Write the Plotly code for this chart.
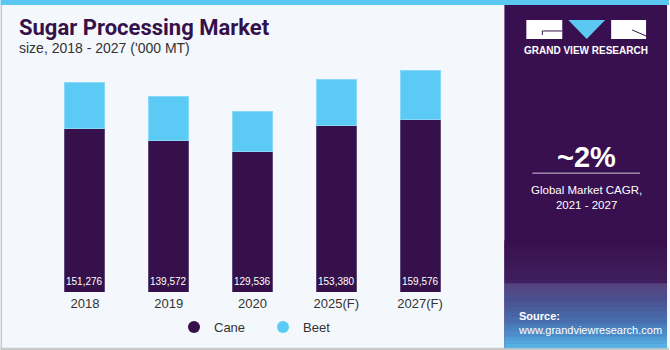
import plotly.graph_objects as go

# ---- data ----
years = ["2018", "2019", "2020", "2025(F)", "2027(F)"]
cane = [151276, 139572, 129536, 153380, 159576]
beet = [42500, 40600, 37500, 43100, 45300]
series_names = ["Cane", "Beet"]
cane_labels = ["151,276", "139,572", "129,536", "153,380", "159,576"]

CANE_C = "#36104a"
BEET_C = "#5bcaf5"
PANEL_C = "#39104f"
BG = "#f4f8fc"

W, H = 670, 350
L, R, T, B = 42.5, 207.5, 60, 58.3
PW, PH = W - L - R, H - T - B


def px(x):
    return (x - L) / PW


def py(y):
    return (H - B - y) / PH


fig = go.Figure()
fig.add_trace(go.Bar(x=years, y=cane, name=series_names[0], marker=dict(color=CANE_C, line=dict(color="#5e4a78", width=1)), showlegend=False))
fig.add_trace(go.Bar(x=years, y=beet, name=series_names[1], marker=dict(color=BEET_C, line=dict(color="#8ad8f7", width=1)), showlegend=False))
# legend entries with round markers
fig.add_trace(go.Scatter(x=[None], y=[None], mode="markers", name=series_names[0], marker=dict(color=CANE_C, size=12, symbol="circle")))
fig.add_trace(go.Scatter(x=[None], y=[None], mode="markers", name=series_names[1], marker=dict(color=BEET_C, size=12, symbol="circle")))

shapes = []
annotations = []

# value labels at bar base
for i, lab in enumerate(cane_labels):
    annotations.append(dict(x=i, y=0, xref="x", yref="y", text=lab, showarrow=False,
                            yanchor="bottom", yshift=3, font=dict(size=10, color="white", family="Liberation Sans")))

# frame elements
shapes.append(dict(type="rect", xref="paper", yref="paper", x0=px(0), x1=px(670), y0=py(0), y1=py(5), fillcolor="#5bc8f2", line_width=0, layer="below"))
shapes.append(dict(type="rect", xref="paper", yref="paper", x0=px(0), x1=px(1.5), y0=py(5), y1=py(350), fillcolor="#c9c9c9", line_width=0, layer="below"))
shapes.append(dict(type="rect", xref="paper", yref="paper", x0=px(0), x1=px(670), y0=py(347.5), y1=py(350), fillcolor="#c9c9c9", line_width=0, layer="below"))
# right panel
shapes.append(dict(type="rect", xref="paper", yref="paper", x0=px(505), x1=px(668), y0=py(5), y1=py(347.5), fillcolor=PANEL_C, line_width=0, layer="below"))


def lerp(c1, c2, t):
    a = [int(c1[i:i + 2], 16) for i in (1, 3, 5)]
    b = [int(c2[i:i + 2], 16) for i in (1, 3, 5)]
    return "rgb(%d,%d,%d)" % tuple(round(a[k] + (b[k] - a[k]) * t) for k in range(3))


# subtle darker-to-lighter purple band
n1 = 12
for i in range(n1):
    y0 = 240 + i * (283 - 240) / n1
    y1 = 240 + (i + 1) * (283 - 240) / n1
    shapes.append(dict(type="rect", xref="paper", yref="paper", x0=px(505), x1=px(668), y0=py(y0), y1=py(y1 + 0.5),
                       fillcolor=lerp(PANEL_C, "#40205f", i / n1), line_width=0, layer="below"))
# lower gradient area
stops = [(283, "#54437f"), (300, "#4a5392"), (320, "#4870b0"), (335, "#4d93cf"), (347.5, "#5cbdec")]
for (ya, ca), (yb, cb) in zip(stops[:-1], stops[1:]):
    n = 8
    for i in range(n):
        y0 = ya + i * (yb - ya) / n
        y1 = ya + (i + 1) * (yb - ya) / n
        shapes.append(dict(type="rect", xref="paper", yref="paper", x0=px(505), x1=px(668), y0=py(y0), y1=py(y1 + 0.5),
                           fillcolor=lerp(ca, cb, i / n), line_width=0, layer="below"))

# logo
shapes.append(dict(type="rect", xref="paper", yref="paper", x0=px(527), x1=px(563), y0=py(20), y1=py(39), fillcolor="white", line_width=0, layer="below"))
shapes.append(dict(type="path", xref="paper", yref="paper",
                   path="M %f %f L %f %f L %f %f Z" % (px(569), py(20), px(606), py(20), px(587.5), py(39)),
                   fillcolor="#5bc8f2", line_width=0, layer="below"))
shapes.append(dict(type="rect", xref="paper", yref="paper", x0=px(612), x1=px(647), y0=py(20), y1=py(39), fillcolor="white", line_width=0, layer="below"))
shapes.append(dict(type="line", xref="paper", yref="paper", x0=px(543), x1=px(563), y0=py(31), y1=py(31), line=dict(color=PANEL_C, width=1), layer="below"))
shapes.append(dict(type="line", xref="paper", yref="paper", x0=px(543), x1=px(543), y0=py(31), y1=py(35), line=dict(color=PANEL_C, width=1), layer="below"))
shapes.append(dict(type="line", xref="paper", yref="paper", x0=px(633), x1=px(647), y0=py(30), y1=py(36), line=dict(color=PANEL_C, width=1), layer="below"))
# divider under CAGR
shapes.append(dict(type="line", xref="paper", yref="paper", x0=px(533), x1=px(641), y0=py(173), y1=py(173), line=dict(color="#cfc4dc", width=1), layer="below"))

FONT = "Liberation Sans"
annotations += [
    dict(x=px(587), y=py(51), xref="paper", yref="paper", text="<b>GRAND VIEW RESEARCH</b>", showarrow=False,
         xanchor="center", yanchor="middle", font=dict(size=10, color="white", family=FONT)),
    dict(x=px(587), y=py(157), xref="paper", yref="paper", text="<b>~2%</b>", showarrow=False,
         xanchor="center", yanchor="middle", font=dict(size=29, color="white", family=FONT)),
    dict(x=px(587), y=py(197), xref="paper", yref="paper", text="Global Market CAGR,<br>2021 - 2027", showarrow=False,
         xanchor="center", yanchor="middle", font=dict(size=11.5, color="white", family=FONT)),
    dict(x=px(517), y=py(323), xref="paper", yref="paper", text="<b>Source:</b><br>www.grandviewresearch.com", showarrow=False,
         xanchor="left", yanchor="middle", align="left", font=dict(size=11, color="white", family=FONT)),
    dict(x=px(16), y=py(28), xref="paper", yref="paper", text="<b>Sugar Processing Market</b>", showarrow=False,
         xanchor="left", yanchor="middle", font=dict(size=22, color="#35114a", family="Roboto", weight=900)),
    dict(x=px(16), y=py(48), xref="paper", yref="paper", text="size, 2018 - 2027 ('000 MT)", showarrow=False,
         xanchor="left", yanchor="middle", font=dict(size=14, color="#333333", family=FONT)),
]

fig.update_layout(
    width=W, height=H,
    margin=dict(l=L, r=R, t=T, b=B, autoexpand=False),
    barmode="stack", bargap=0.524,
    paper_bgcolor=BG, plot_bgcolor=BG,
    font=dict(family=FONT, color="#333333"),
    xaxis=dict(showgrid=False, showline=False, zeroline=False, ticks="", ticklabelstandoff=2, automargin=False,
               tickfont=dict(size=13, color="#333333"), range=[-0.5, 4.5]),
    yaxis=dict(visible=False, range=[0, 214100]),
    showlegend=True,
    legend=dict(orientation="h", xref="container", yref="container", x=174 / W, y=(H - 327) / H,
                xanchor="left", yanchor="middle", entrywidth=44,
                traceorder="normal", font=dict(size=13, color="#333333"), bgcolor="rgba(0,0,0,0)"),
    shapes=shapes, annotations=annotations,
)

fig.write_html("out.html")
